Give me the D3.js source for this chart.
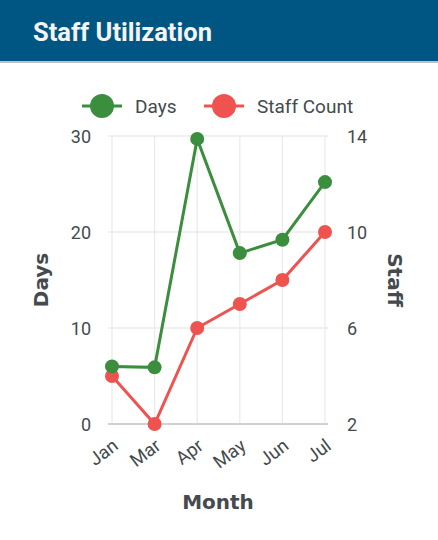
<!DOCTYPE html>
<html><head><meta charset="utf-8">
<script src="https://cdn.jsdelivr.net/npm/d3@7"></script>
<style>
html,body{margin:0;padding:0;background:#fff;}
</style></head>
<body>
<script>
const months = ["Jan","Mar","Apr","May","Jun","Jul"];
const daysValues = [6, 5.9, 29.7, 17.8, 19.2, 25.2];
const staffValues = [4, 2, 6, 7, 8, 10];
const daysTicks = [0, 10, 20, 30];
const staffTicks = [2, 6, 10, 14];

const W = 438, H = 540;
const green = "#3b8e3e", red = "#ef5350", textCol = "#444a4d";
const svg = d3.select("body").append("svg").attr("width", W).attr("height", H);

// header
svg.append("rect").attr("x",0).attr("y",0).attr("width",W).attr("height",62).attr("fill","#005683");
svg.append("rect").attr("x",0).attr("y",61).attr("width",W).attr("height",2).attr("fill","#b8c4c8");
svg.append("text").attr("x",33).attr("y",41).attr("fill","#f4f4f4")
  .attr("font-family","Roboto").attr("font-weight","bold").attr("font-size",25.5).text("Staff Utilization");

const x = d3.scalePoint().domain(months).range([112, 325]);
const yL = d3.scaleLinear().domain([0, 30]).range([424, 136]);
const yR = d3.scaleLinear().domain([2, 14]).range([424, 136]);

// gridlines
const g = svg.append("g");
g.selectAll(".hg").data(daysTicks).join("line")
  .attr("x1",108).attr("x2",328).attr("y1",d=>yL(d)).attr("y2",d=>yL(d))
  .attr("stroke","#ebebeb").attr("stroke-width",1.3);
g.selectAll(".vg").data(months).join("line")
  .attr("x1",d=>x(d)).attr("x2",d=>x(d)).attr("y1",136).attr("y2",424)
  .attr("stroke","#ebebeb").attr("stroke-width",1.3);
g.append("line").attr("x1",108).attr("x2",328).attr("y1",424).attr("y2",424)
  .attr("stroke","#cfd2d3").attr("stroke-width",2);

// axes
const axL = svg.append("g").attr("transform","translate(91,0)")
  .call(d3.axisLeft(yL).tickValues(daysTicks).tickSize(0).tickPadding(0));
const axR = svg.append("g").attr("transform","translate(347,0)")
  .call(d3.axisRight(yR).tickValues(staffTicks).tickSize(0).tickPadding(0));
[axL, axR].forEach(a => {
  a.select(".domain").remove();
  a.selectAll("text").attr("font-family","Roboto").attr("font-size",18).attr("fill",textCol).attr("dy","0.35em");
});
const axB = svg.append("g").attr("transform","translate(0,430)")
  .call(d3.axisBottom(x).tickSize(0).tickPadding(0));
axB.select(".domain").remove();
axB.selectAll("text").attr("font-family","Roboto").attr("font-size",18.5).attr("fill",textCol)
  .attr("text-anchor","end").attr("y",0).attr("dy","0.35em")
  .attr("transform","translate(3,13) rotate(-37)");

// axis titles
svg.append("text").attr("transform","translate(48,280) rotate(-90)").attr("text-anchor","middle")
  .attr("font-family","DejaVu Sans").attr("font-weight","bold").attr("font-size",20).attr("fill",textCol).text("Days");
svg.append("text").attr("transform","translate(388,280) rotate(90)").attr("text-anchor","middle")
  .attr("font-family","DejaVu Sans").attr("font-weight","bold").attr("font-size",20).attr("fill",textCol).text("Staff");
svg.append("text").attr("x",218).attr("y",509).attr("text-anchor","middle")
  .attr("font-family","DejaVu Sans").attr("font-weight","bold").attr("font-size",20).attr("fill",textCol).text("Month");

// lines
const lineL = d3.line().x((d,i)=>x(months[i])).y(d=>yL(d));
const lineR = d3.line().x((d,i)=>x(months[i])).y(d=>yR(d));
svg.append("path").attr("d", lineR(staffValues)).attr("fill","none").attr("stroke",red).attr("stroke-width",3);
svg.append("path").attr("d", lineL(daysValues)).attr("fill","none").attr("stroke",green).attr("stroke-width",3);
svg.selectAll(".pr").data(staffValues).join("circle")
  .attr("cx",(d,i)=>x(months[i])).attr("cy",d=>yR(d)).attr("r",7).attr("fill",red);
svg.selectAll(".pl").data(daysValues).join("circle")
  .attr("cx",(d,i)=>x(months[i])).attr("cy",d=>yL(d)).attr("r",7).attr("fill",green);

// legend
const legend = [{name:"Days", color:green, x:82}, {name:"Staff Count", color:red, x:204}];
const lg = svg.selectAll(".lg").data(legend).join("g").attr("transform",d=>`translate(${d.x},106)`);
lg.append("line").attr("x1",0).attr("x2",40).attr("stroke",d=>d.color).attr("stroke-width",3);
lg.append("circle").attr("cx",20).attr("r",12).attr("fill",d=>d.color);
lg.append("text").attr("x",53).attr("dy","0.35em").attr("font-family","Roboto").attr("font-size",19)
  .attr("fill",textCol).text(d=>d.name);
</script>
</body></html>
